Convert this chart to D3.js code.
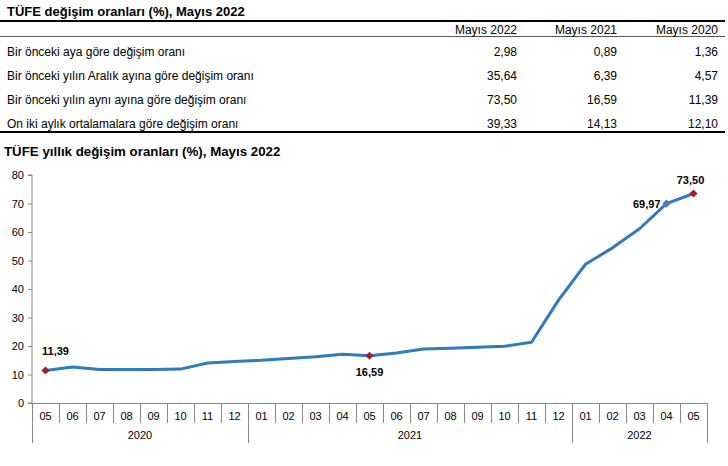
<!DOCTYPE html>
<html><head><meta charset="utf-8">
<script src="https://cdn.jsdelivr.net/npm/d3@7"></script>
<style>body{margin:0;background:#fff}svg{display:block;font-family:"Liberation Sans",Arial,sans-serif}</style>
</head><body><svg id="c" width="728" height="466"></svg>
<script>
const tableTitle = "TÜFE değişim oranları (%), Mayıs 2022";
const tableColumns = ["Mayıs 2022", "Mayıs 2021", "Mayıs 2020"];
const tableRows = ["Bir önceki aya göre değişim oranı", "Bir önceki yılın Aralık ayına göre değişim oranı", "Bir önceki yılın aynı ayına göre değişim oranı", "On iki aylık ortalamalara göre değişim oranı"];
const tableValues = [["2,98","0,89","1,36"],["35,64","6,39","4,57"],["73,50","16,59","11,39"],["39,33","14,13","12,10"]];

const chartTitle = "TÜFE yıllık değişim oranları (%), Mayıs 2022";
const months = ["05","06","07","08","09","10","11","12","01","02","03","04","05","06","07","08","09","10","11","12","01","02","03","04","05"];
const years = ["2020","2020","2020","2020","2020","2020","2020","2020","2021","2021","2021","2021","2021","2021","2021","2021","2021","2021","2021","2021","2022","2022","2022","2022","2022"];
const values = [11.39,12.62,11.76,11.77,11.75,11.89,14.03,14.60,14.97,15.61,16.19,17.14,16.59,17.53,18.95,19.25,19.58,19.89,21.31,36.08,48.69,54.44,61.14,69.97,73.50];
const yTicks = [0,10,20,30,40,50,60,70,80];
const labeled = [0, 12, 23, 24];

const svg = d3.select("#c");
const F = "'Liberation Sans',Arial,sans-serif";

// ---- Table ----
svg.append("text").attr("x",7).attr("y",16).attr("font-size",13).attr("font-weight","bold").text(tableTitle);
svg.append("line").attr("x1",0).attr("x2",725).attr("y1",21).attr("y2",21).attr("stroke","#000").attr("stroke-width",2);
svg.append("line").attr("x1",0).attr("x2",725).attr("y1",36.5).attr("y2",36.5).attr("stroke","#555").attr("stroke-width",1);
const colRight = [517, 617, 718];
tableColumns.forEach((c,i)=>svg.append("text").attr("x",colRight[i]).attr("y",34).attr("text-anchor","end").attr("font-size",12).text(c));
const rowY = [56, 80, 104, 128];
tableRows.forEach((r,j)=>{
  svg.append("text").attr("x",7).attr("y",rowY[j]).attr("font-size",12).text(r);
  tableValues[j].forEach((v,i)=>svg.append("text").attr("x",colRight[i]).attr("y",rowY[j]).attr("text-anchor","end").attr("font-size",12).text(v));
});
svg.append("line").attr("x1",0).attr("x2",725).attr("y1",132).attr("y2",132).attr("stroke","#000").attr("stroke-width",2);

// ---- Chart ----
svg.append("text").attr("x",4).attr("y",156).attr("font-size",13.3).attr("font-weight","bold").text(chartTitle);

const x0 = 32, x1 = 707, yTop = 175, yBot = 403;
const idx = d3.range(months.length);
const x = d3.scaleBand().domain(idx).range([x0, x1]).padding(0);
const y = d3.scaleLinear().domain([0, 80]).range([yBot, yTop]);

const yAxis = svg.append("g").attr("transform",`translate(${x0},0)`)
  .call(d3.axisLeft(y).tickValues(yTicks).tickSize(4).tickPadding(4));
yAxis.selectAll("path,line").attr("stroke","#888");
yAxis.selectAll("text").attr("font-size",11).attr("font-family",F).attr("fill","#000");
yAxis.select(".domain").attr("d",`M-4,${yBot}H0V${yTop}H-4`);

// x axis
const g = svg.append("g");
g.append("line").attr("x1",x0).attr("x2",x1).attr("y1",yBot+0.5).attr("y2",yBot+0.5).attr("stroke","#888");
const bounds = idx.map(i=>x(i)).concat([x1]);
bounds.forEach((b,i)=>{
  const isYear = i===0 || i===bounds.length-1 || (i<years.length && years[i]!==years[i-1]);
  g.append("line").attr("x1",Math.round(b)+0.5).attr("x2",Math.round(b)+0.5)
    .attr("y1",yBot).attr("y2",isYear?443:423).attr("stroke","#888");
});
months.forEach((m,i)=>g.append("text").attr("x",x(i)+x.bandwidth()/2).attr("y",420).attr("text-anchor","middle").attr("font-size",11).text(m));
const yearGroups = d3.groups(idx, i=>years[i]);
yearGroups.forEach(([yr, arr])=>{
  const a = x(arr[0]), b = x(arr[arr.length-1]) + x.bandwidth();
  g.append("text").attr("x",(a+b)/2).attr("y",439).attr("text-anchor","middle").attr("font-size",11).text(yr);
});

// line
const cx = i => x(i) + x.bandwidth()/2;
svg.append("path").datum(values)
  .attr("d", d3.line().x((d,i)=>cx(i)).y(d=>y(d)))
  .attr("fill","none").attr("stroke","#2E7BBE").attr("stroke-width",3).attr("stroke-linejoin","round");

const diamond = d3.symbol().type(d3.symbolDiamond2).size(42);
labeled.forEach(i=>{
  svg.append("path").attr("d",diamond).attr("transform",`translate(${cx(i)},${y(values[i])})`)
    .attr("fill", i===23 ? "#4A7EBB" : "#9E1F2E");
});
const fmt = v => v.toFixed(2).replace(".", ",");
const labelPos = {0:[cx(0)+10, y(values[0])-16, "middle"], 12:[cx(12), y(values[12])+20, "middle"], 23:[cx(23)-6, y(values[23])+4, "end"], 24:[cx(24)-3, y(values[24])-10, "middle"]};
labeled.forEach(i=>{
  const [lx, ly, an] = labelPos[i];
  svg.append("text").attr("x",lx).attr("y",ly).attr("text-anchor",an).attr("font-size",11).attr("font-weight","bold").text(fmt(values[i]));
});
</script></body></html>
